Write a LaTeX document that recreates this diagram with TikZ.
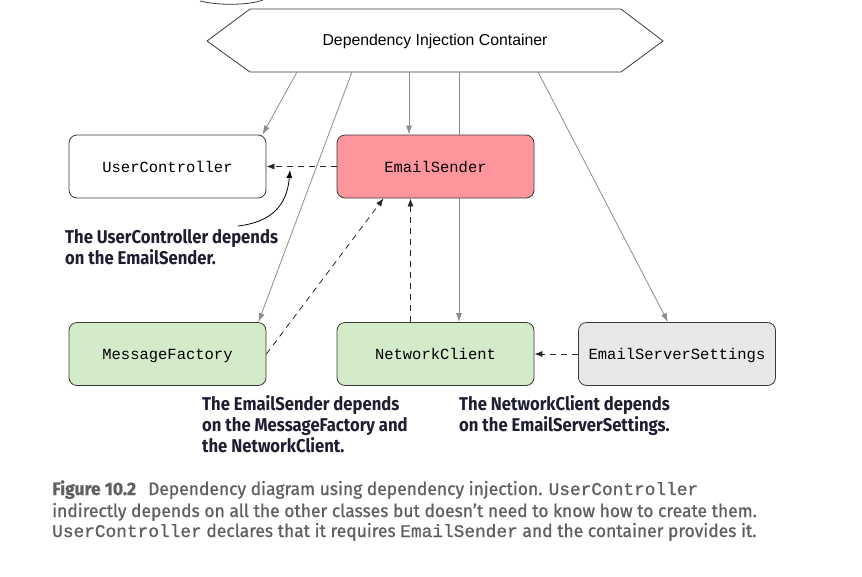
\documentclass[tikz,border=0pt]{standalone}
\usepackage{fontspec}
\setmainfont{Liberation Sans}
\newfontfamily\monofont{Liberation Mono}
\newfontfamily\capmonofont{Liberation Mono}[FakeBold=1]
\newfontfamily\labfont{Fira Sans}[FakeStretch=0.9]
\newfontfamily\capfont{Fira Sans}[FakeStretch=0.97,FakeBold=0.8]
\newcommand\cmonotext{\capmonofont\fontsize{17.8}{21}\selectfont}
\usetikzlibrary{arrows.meta}
\definecolor{boxline}{HTML}{3A3A3A}
\definecolor{arrowgrey}{HTML}{8C8C8C}
\definecolor{pinkfill}{HTML}{FF969E}
\definecolor{greenfill}{HTML}{D4EBC9}
\definecolor{greyfill}{HTML}{E8E8E8}
\definecolor{labcol}{HTML}{1E1E32}
\definecolor{capgrey}{HTML}{5F5F5F}
\begin{document}
\begin{tikzpicture}[x=1pt,y=-1pt,
  box/.style={draw=boxline, rounded corners=8pt, minimum width=197pt, minimum height=63pt, inner sep=0pt,
    text height=12pt, text depth=1pt,
    font=\monofont\fontsize{15.5}{18}\selectfont, line width=0.8pt},
  dep/.style={draw=black!85, dash pattern=on 6pt off 5pt, line width=0.8pt, -{Latex[length=8pt,width=6pt]}},
  inj/.style={draw=arrowgrey, line width=0.8pt, -{Latex[length=9pt,width=6pt]}},
  injline/.style={draw=arrowgrey, line width=0.8pt},
  lab/.style={font=\labfont\bfseries\fontsize{18.5}{21}\selectfont, text=labcol, align=left, anchor=north west, inner sep=0pt},
  captext/.style={font=\capfont\fontsize{18}{21}\selectfont, text=capgrey, anchor=base west, inner sep=0pt},
]
\useasboundingbox[fill=white] (0,0) rectangle (862,576);

% top arc (cut off)
\draw[boxline, line width=0.8pt] (200,1) .. controls (220,6) and (250,5) .. (263,0);

% container
\draw[boxline, line width=0.8pt, fill=white] (207,41) -- (250,9) -- (621,9) -- (663,41) -- (621,72) -- (250,72) -- cycle;
\node[font=\fontsize{15.8}{18}\selectfont] (dic) at (435,41) {Dependency Injection Container};
\coordinate (c1) at (297,72);
\coordinate (c2) at (352,72);
\coordinate (c3) at (409,72);
\coordinate (c4) at (459,72);
\coordinate (c5) at (538,72);

% boxes
\node[box, fill=white] (uc) at (167.5,166.5) {UserController};
\node[box, fill=pinkfill] (es) at (435.5,166.5) {EmailSender};
\node[box, fill=greenfill] (mf) at (167.5,354) {MessageFactory};
\node[box, fill=greenfill] (nc) at (435.5,354) {NetworkClient};
\node[box, fill=greyfill] (ess) at (677,354) {EmailServerSettings};

% container injection arrows
\draw[inj] (c1) -- ([xshift=-4pt]uc.north east);
\draw[inj] (c2) -- ([xshift=-8pt]mf.north east);
\draw[inj] (c3) -- (es.north -| c3);
\draw[injline] (c4) -- (es.north -| c4);
\draw[inj] (es.south -| c4) -- (nc.north -| c4);
\draw[inj] (c5) -- ([xshift=-9pt]ess.north);

% dependencies
\draw[dep] (es.west) -- (uc.east);
\draw[dep] (mf.east) -- ([xshift=-52pt]es.south);
\draw[dep] ([xshift=-25pt]nc.north) -- ([xshift=-25pt]es.south);
\draw[dep] (ess.west) -- (nc.east);

% annotation arrow
\coordinate (ua) at (238,226);
\coordinate (uatip) at (290,170);
\draw[black, line width=0.8pt, -{Latex[length=8pt,width=6pt]}] (ua) .. controls (272,222) and (287,205) .. (uatip);

% labels
\node[lab] (l1) at (65,229) {The UserController depends\\on the EmailSender.};
\node[lab] (l2) at (202,395) {The EmailSender depends\\on the MessageFactory and\\the NetworkClient.};
\node[lab] (l3) at (459,395) {The NetworkClient depends\\on the EmailServerSettings.};

% caption
\node[captext] (cap1) at (52,495) {{\bfseries Figure 10.2}\hspace{12pt}Dependency diagram using dependency injection. {\cmonotext UserController}};
\node[captext] (cap2) at (52,517) {indirectly depends on all the other classes but doesn’t need to know how to create them.};
\node[captext] (cap3) at (52,537) {{\cmonotext UserController} declares that it requires {\cmonotext EmailSender} and the container provides it.};
\end{tikzpicture}
\end{document}
